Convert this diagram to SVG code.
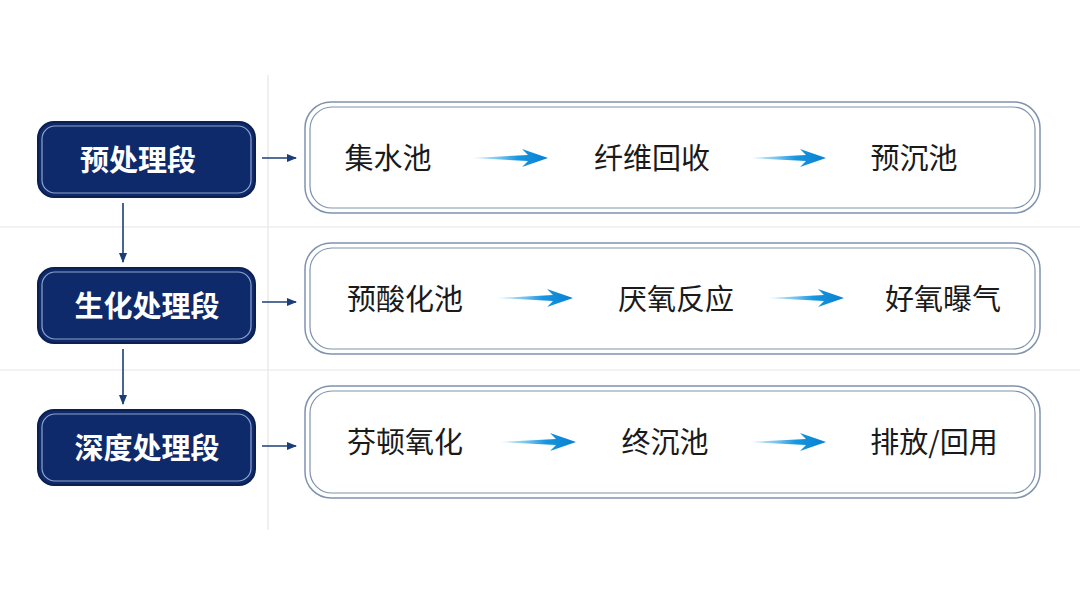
<svg xmlns="http://www.w3.org/2000/svg" width="1080" height="606" viewBox="0 0 1080 606">
<style>
.stage rect.o{fill:#0f2a6b;stroke:#0a1f52;stroke-width:2}
.stage rect.i{fill:none;stroke:#8ea3cc;stroke-width:1.2}
.stage text{font-family:"Noto Sans CJK SC",sans-serif;font-weight:bold;font-size:29px;fill:#fff;text-anchor:middle}
.panel rect.o{fill:#fff;stroke:#7f93ad;stroke-width:1.5}
.panel rect.i{fill:none;stroke:#7f93ad;stroke-width:1.2}
.panel text{font-family:"Noto Sans CJK SC",sans-serif;font-size:29px;fill:#1a1a1a;text-anchor:middle}
.grid{stroke:#e6e6e6;stroke-width:1.2}
.conn{stroke:#1c3e78;stroke-width:1.6;fill:none}
</style>
<defs>
<marker id="ah" markerWidth="10" markerHeight="10" refX="9" refY="5" orient="auto" markerUnits="userSpaceOnUse"><path d="M0,1 L10,5 L0,9 Z" fill="#1c3e78"/></marker>
<linearGradient id="bg" x1="0" x2="1"><stop offset="0" stop-color="#6fc7f0" stop-opacity="0.3"/><stop offset="0.6" stop-color="#1596e0"/><stop offset="1" stop-color="#0a7fd0"/></linearGradient>
<path id="ba" d="M0,0 L56,-3 L50,-9 L76,0 L50,9 L56,3 Z" fill="url(#bg)"/>
</defs>
<rect width="1080" height="606" fill="#fff"/>
<g id="grid">
<line class="grid" x1="268" y1="75" x2="268" y2="530"/>
<line class="grid" x1="0" y1="227" x2="1080" y2="227"/>
<line class="grid" x1="0" y1="370" x2="1080" y2="370"/>
</g>
<g id="s1" class="stage"><rect class="o" x="38" y="122" width="217" height="75" rx="16"/><rect class="i" x="42" y="126" width="209" height="67" rx="13"/><text x="138" y="171">预处理段</text></g>
<g id="s2" class="stage"><rect class="o" x="38" y="268" width="217" height="75" rx="16"/><rect class="i" x="42" y="272" width="209" height="67" rx="13"/><text x="147" y="317">生化处理段</text></g>
<g id="s3" class="stage"><rect class="o" x="38" y="410" width="217" height="75" rx="16"/><rect class="i" x="42" y="414" width="209" height="67" rx="13"/><text x="147" y="459">深度处理段</text></g>
<g id="p1" class="panel"><rect class="o" x="305" y="102" width="735" height="111" rx="26"/><rect class="i" x="310" y="107" width="725" height="101" rx="22"/>
<text x="388" y="169">集水池</text><text x="652" y="169">纤维回收</text><text x="914" y="169">预沉池</text>
<use href="#ba" x="472" y="158"/><use href="#ba" x="750" y="158"/></g>
<g id="p2" class="panel"><rect class="o" x="305" y="243" width="735" height="111" rx="26"/><rect class="i" x="310" y="248" width="725" height="101" rx="22"/>
<text x="405" y="310">预酸化池</text><text x="676" y="310">厌氧反应</text><text x="943" y="310">好氧曝气</text>
<use href="#ba" x="497" y="298"/><use href="#ba" x="768" y="298"/></g>
<g id="p3" class="panel"><rect class="o" x="305" y="386" width="735" height="112" rx="26"/><rect class="i" x="310" y="391" width="725" height="102" rx="22"/>
<text x="405" y="453">芬顿氧化</text><text x="665" y="453">终沉池</text><text x="934" y="453">排放/回用</text>
<use href="#ba" x="500" y="442"/><use href="#ba" x="750" y="442"/></g>
<g id="connectors">
<line class="conn" x1="262" y1="158" x2="296" y2="158" marker-end="url(#ah)"/>
<line class="conn" x1="262" y1="302" x2="296" y2="302" marker-end="url(#ah)"/>
<line class="conn" x1="262" y1="446" x2="296" y2="446" marker-end="url(#ah)"/>
<line class="conn" x1="123" y1="203" x2="123" y2="262" marker-end="url(#ah)"/>
<line class="conn" x1="123" y1="349" x2="123" y2="404" marker-end="url(#ah)"/>
</g>
</svg>
